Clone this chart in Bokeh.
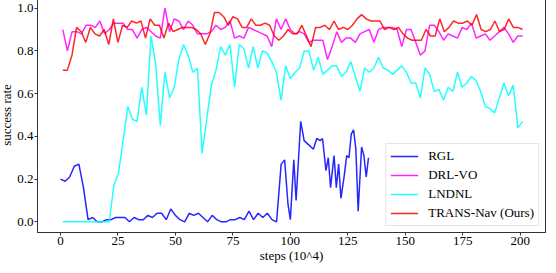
from bokeh.plotting import figure
from bokeh.models import Range1d, FixedTicker, PrintfTickFormatter, Legend, LegendItem
from bokeh.embed import file_html
from bokeh.resources import INLINE

# ---------------- data ----------------
rgl_steps = [0, 2, 4, 6, 8, 10, 12, 14, 16, 18, 20, 22, 24, 26, 28, 30, 32, 34, 36, 38,
             40, 42, 44, 46, 48, 50, 52, 54, 56, 58, 60, 62, 64, 66, 68, 70, 72, 74, 76, 78,
             80, 82, 84, 86, 88, 90, 92, 94,
             96, 97.5, 99, 100, 101.5, 102.5, 104.5, 106, 108, 110, 111.5, 113, 114, 115.5,
             116.5, 117.5, 119, 120, 121, 122, 123.5, 124.5, 125.5, 126.5, 127.5, 128.5,
             129.5, 131, 132, 133, 134]
rgl = [0.20, 0.19, 0.21, 0.26, 0.27, 0.16, 0.01, 0.02, 0.00, 0.00, 0.01, 0.01, 0.02, 0.02, 0.02, 0.00,
       0.02, 0.01, 0.01, 0.03, 0.02, 0.04, 0.04, 0.01, 0.06, 0.03, 0.01, 0.00, 0.04, 0.03,
       0.04, 0.02, 0.00, 0.03, 0.01, 0.00, 0.00, 0.01, 0.01, 0.02, 0.01, 0.05, 0.01, 0.04,
       0.02, 0.04, 0.01, 0.00,
       0.27, 0.29, 0.08, 0.01, 0.29, 0.10, 0.47, 0.38, 0.36, 0.34, 0.39, 0.38, 0.39, 0.24,
       0.30, 0.16, 0.31, 0.16, 0.27, 0.11, 0.22, 0.31, 0.30, 0.41, 0.43, 0.34, 0.05, 0.35,
       0.31, 0.21, 0.30]

drl_vo = [0.90, 0.80, 0.89, 0.89, 0.88, 0.92, 0.92, 0.91, 0.94, 0.88, 0.90, 0.93, 0.93, 0.93,
          0.90, 0.90, 0.86, 0.90, 0.91, 0.89, 0.87, 0.86, 1.00, 0.89, 0.95, 0.94, 0.90, 0.94,
          0.92, 0.88, 0.88, 0.88, 0.89, 0.92, 0.90, 0.91, 0.94, 0.86, 0.87, 0.86, 0.91, 0.90,
          0.89, 0.88, 0.87, 0.82, 0.95,
          0.90, 0.95, 0.90, 0.88, 0.89, 0.88, 0.84, 0.85, 0.85, 0.85, 0.76, 0.82, 0.89, 0.84,
          0.86, 0.86, 0.84, 0.88, 0.89, 0.90, 0.84, 0.90, 0.91, 0.91, 0.91, 0.90, 0.82, 0.90,
          0.90, 0.84, 0.78, 0.80, 0.92, 0.92, 0.89, 0.85, 0.88, 0.87, 0.86, 0.91, 0.90, 0.93,
          0.86, 0.87, 0.88, 0.85, 0.87, 0.89, 0.91, 0.88, 0.84, 0.87, 0.87]

lndnl = [0.00, 0.00, 0.00, 0.00, 0.00, 0.00, 0.00, 0.00, 0.00, 0.00, 0.00,
         0.17, 0.23, 0.38, 0.54, 0.48, 0.47, 0.63, 0.50, 0.87, 0.74, 0.45, 0.70, 0.58, 0.63,
         0.76, 0.83, 0.78, 0.70, 0.72, 0.32, 0.48, 0.64, 0.71, 0.82, 0.78, 0.83, 0.63, 0.83,
         0.81, 0.72, 0.82, 0.72, 0.80, 0.79,
         0.75, 0.70, 0.57, 0.73, 0.67, 0.70, 0.72, 0.80, 0.80, 0.71, 0.77, 0.69, 0.71, 0.73,
         0.73, 0.68, 0.70, 0.75, 0.68, 0.61, 0.72, 0.70, 0.72, 0.77, 0.72, 0.71, 0.69, 0.71,
         0.73, 0.70, 0.65, 0.65, 0.58, 0.72, 0.69, 0.61, 0.62, 0.57, 0.63, 0.61, 0.70, 0.63,
         0.65, 0.68, 0.66, 0.61, 0.54, 0.53, 0.51, 0.58, 0.65, 0.59, 0.64, 0.44, 0.47]

trans_nav = [0.71, 0.71, 0.78, 0.91, 0.89, 0.84, 0.91, 0.88, 0.87, 0.90, 0.83, 0.95, 0.84,
             0.92, 0.91, 0.94, 0.93, 0.94, 0.86, 0.95, 0.92, 0.92, 0.86, 0.93, 0.89, 0.90,
             0.91, 0.91, 0.91, 0.90, 0.88, 0.83, 0.88, 0.98, 0.98, 0.96, 0.92, 0.96, 0.95,
             0.91, 0.91, 0.95, 0.92, 0.92, 0.93, 0.92, 0.87, 0.85, 0.87, 0.90, 0.88, 0.88,
             0.92, 0.87, 0.82, 0.91, 0.91, 0.92, 0.90, 0.94, 0.90, 0.91, 0.90, 0.92, 0.95,
             0.97, 0.95, 0.94, 0.94, 0.94, 0.90, 0.91, 0.90, 0.91, 0.88, 0.86, 0.85, 0.85,
             0.85, 0.90, 0.87, 0.87, 0.95, 0.89, 0.91, 0.94, 0.93, 0.93, 0.94, 0.92, 0.97,
             0.90, 0.89, 0.90, 0.94, 0.89, 0.90, 0.95, 0.91, 0.91, 0.90]

x_ticks = [0, 25, 50, 75, 100, 125, 150, 175, 200]
y_ticks = [0.0, 0.2, 0.4, 0.6, 0.8, 1.0]
series_names = ["RGL", "DRL-VO", "LNDNL", "TRANS-Nav (Ours)"]
series_colors = ["#0000ff", "#ff00ff", "#00ffff", "#ff0000"]


def steps_for(vals, start=1.0, end=201.0):
    n = len(vals)
    return [start + i * (end - start) / (n - 1) for i in range(n)]


FONT = "Liberation Serif"

p = figure(width=552, height=273, output_backend="svg", toolbar_location=None,
           x_range=Range1d(-10, 211), y_range=Range1d(-0.05, 1.05),
           min_border_left=36, min_border_right=3, min_border_top=5, min_border_bottom=0)
p.styles = {"margin": "-8px -8px -8px -4px"}
p.background_fill_color = "white"
p.border_fill_color = "white"
p.outline_line_color = "#333333"
p.outline_line_width = 1
p.xgrid.visible = False
p.ygrid.visible = False

xs_all = [rgl_steps, steps_for(drl_vo), steps_for(lndnl), steps_for(trans_nav)]
ys_all = [rgl, drl_vo, lndnl, trans_nav]
renderers = []
for xs, ys, c in zip(xs_all, ys_all, series_colors):
    r = p.line(xs, ys, line_color=c, line_width=1.5, line_alpha=0.85)
    renderers.append(r)

for ax in (p.xaxis[0], p.yaxis[0]):
    ax.axis_line_color = "#333333"
    ax.major_tick_line_color = "#333333"
    ax.major_tick_out = 3
    ax.major_tick_in = 0
    ax.minor_tick_out = 0
    ax.minor_tick_in = 0
    ax.major_label_text_font = FONT
    ax.major_label_text_font_size = "13px"
    ax.major_label_text_color = "black"
    ax.axis_label_text_font = FONT
    ax.axis_label_text_font_size = "13px"
    ax.axis_label_text_font_style = "normal"
    ax.axis_label_text_color = "black"
    ax.major_label_standoff = 1
    ax.axis_label_standoff = 0

p.xaxis[0].ticker = FixedTicker(ticks=x_ticks)
p.xaxis[0].formatter = PrintfTickFormatter(format="%d")
p.yaxis[0].ticker = FixedTicker(ticks=y_ticks)
p.yaxis[0].formatter = PrintfTickFormatter(format="%.1f")
p.xaxis[0].axis_label = "steps (10^4)"
p.yaxis[0].axis_label = "success rate"

legend = Legend(items=[LegendItem(label=n, renderers=[r]) for n, r in zip(series_names, renderers)],
                location="bottom_right")
legend.label_text_font = FONT
legend.label_text_font_size = "13px"
legend.label_text_color = "black"
legend.glyph_width = 28
legend.glyph_height = 14
legend.label_height = 14
legend.label_standoff = 10
legend.spacing = 3
legend.padding = 4
legend.margin = 6
legend.border_line_color = "#cccccc"
legend.border_line_width = 1
legend.background_fill_alpha = 0.8
p.add_layout(legend, "center")

open("out.html", "w").write(file_html(p, INLINE))
